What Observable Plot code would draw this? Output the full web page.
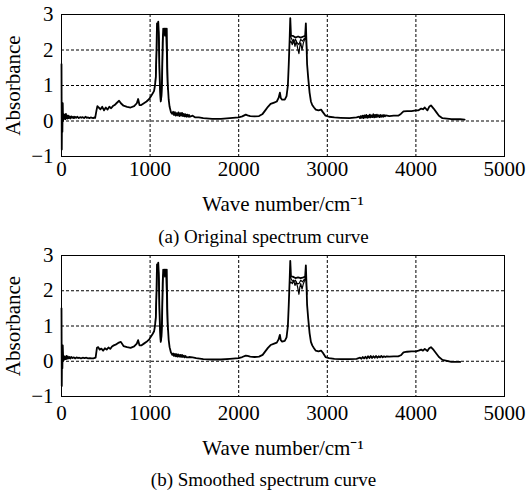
<!DOCTYPE html>
<html><head><meta charset="utf-8">
<script src="https://cdn.jsdelivr.net/npm/d3@7"></script>
<script src="https://cdn.jsdelivr.net/npm/@observablehq/plot@0.6"></script>
<style>
body{margin:0;background:#fff;}
.cap{width:527px;text-align:center;font-family:"Liberation Serif",serif;font-size:19px;height:30px;line-height:30px;color:#000;}
</style></head><body>
<div id="a"></div><div class="cap">(a) Original spectrum curve</div>
<div id="b"></div><div class="cap">(b) Smoothed spectrum curve</div>
<script>
const xTicks = [0,1000,2000,3000,4000,5000];
const yTicks = [-1,0,1,2,3];
const xGrid = [1000,2000,3000,4000];
const yGrid = [0,1,2];

// Original spectrum, main trace
const waveA = [0,3,6,10,14,18,22,26,30,35,40,45,50,55,60,68,75,82,90,100,110,120,130,140,150,165,180,195,210,225,240,255,270,285,300,315,330,345,360,370,380,395,405,420,440,460,480,500,520,540,560,580,600,620,650,670,700,740,780,820,850,865,880,900,930,960,990,1010,1030,1045,1055,1065,1072,1078,1085,1092,1098,1105,1112,1120,1128,1135,1142,1148,1155,1162,1168,1175,1182,1188,1194,1200,1210,1220,1235,1250,1260,1270,1280,1290,1300,1310,1320,1330,1340,1350,1360,1370,1380,1390,1400,1410,1420,1430,1440,1450,1480,1510,1550,1600,1700,1800,1900,2000,2040,2080,2100,2130,2180,2230,2270,2300,2330,2360,2400,2430,2450,2465,2475,2490,2520,2540,2555,2565,2575,2582,2590,2610,2640,2670,2700,2730,2750,2758,2765,2772,2785,2800,2815,2830,2850,2870,2900,2930,2950,2980,3020,3080,3150,3250,3330,3360,3370,3380,3390,3400,3410,3420,3430,3440,3450,3460,3470,3480,3490,3500,3510,3520,3530,3540,3550,3560,3570,3580,3590,3600,3610,3620,3630,3640,3650,3660,3700,3750,3800,3830,3860,3900,3950,4000,4030,4060,4080,4100,4130,4150,4170,4200,4230,4260,4300,4400,4500,4550];
const absA = [1.6,-0.8,0.3,-0.3,0.5,0.0,0.2,0.05,0.15,0.06,0.18,0.05,0.2,0.08,0.16,0.07,0.15,0.08,0.13,0.07,0.13,0.09,0.12,0.08,0.12,0.09,0.12,0.08,0.11,0.09,0.11,0.08,0.12,0.09,0.1,0.08,0.1,0.09,0.08,0.1,0.09,0.3,0.42,0.38,0.33,0.4,0.3,0.38,0.32,0.4,0.36,0.42,0.45,0.5,0.57,0.5,0.43,0.4,0.38,0.42,0.5,0.62,0.45,0.45,0.5,0.55,0.62,0.7,0.78,0.85,1.0,1.25,2.0,2.75,2.6,2.8,2.5,1.5,0.9,0.55,0.7,1.2,2.2,2.6,2.55,2.6,2.4,2.6,2.5,2.6,1.5,1.0,0.6,0.4,0.25,0.2,0.26,0.17,0.25,0.15,0.22,0.16,0.24,0.14,0.22,0.15,0.23,0.14,0.2,0.13,0.19,0.12,0.18,0.12,0.17,0.12,0.15,0.1,0.1,0.08,0.06,0.06,0.08,0.1,0.13,0.18,0.16,0.14,0.13,0.14,0.2,0.3,0.4,0.48,0.52,0.55,0.65,0.8,0.65,0.6,0.6,0.7,1.0,1.6,2.3,2.9,2.4,2.4,2.35,2.38,2.35,2.38,2.4,2.75,2.2,1.6,1.2,0.8,0.55,0.45,0.38,0.32,0.3,0.32,0.25,0.15,0.12,0.1,0.09,0.08,0.1,0.12,0.08,0.14,0.09,0.15,0.08,0.16,0.1,0.17,0.09,0.15,0.1,0.18,0.1,0.16,0.11,0.19,0.1,0.17,0.11,0.18,0.12,0.16,0.11,0.17,0.12,0.16,0.12,0.17,0.13,0.16,0.14,0.15,0.15,0.2,0.27,0.28,0.28,0.3,0.3,0.35,0.33,0.38,0.3,0.4,0.44,0.35,0.25,0.15,0.08,0.05,0.05,0.04,0.03];
// Original spectrum, secondary traces in the saturated bands
const waveA2 = [1060,1072,1080,1090,1100,1108,1118,1126,1134,1145,1155,1165,1178,1190,1198];
const absA2 = [1.1,1.8,2.6,2.7,2.3,1.2,0.6,0.6,1.0,2.4,2.5,2.45,2.5,1.6,0.9];
const waveA3 = [2575,2590,2605,2620,2635,2650,2665,2680,2690,2700,2715,2730,2745,2758,2770];
const absA3 = [2.2,2.25,2.15,2.3,2.1,2.25,2.05,1.9,2.1,2.2,2.0,2.2,2.3,2.45,1.9];
const waveA4 = [2580,2600,2620,2640,2660,2680,2700,2720,2740,2760];
const absA4 = [2.4,2.3,2.2,2.3,2.2,2.15,2.3,2.25,2.32,2.3];

// Smoothed spectrum, main trace
const waveB = [0,3,6,10,14,20,26,32,40,48,55,62,70,80,90,100,110,125,140,155,170,185,200,220,240,260,280,300,320,340,360,385,400,415,430,450,470,490,510,530,550,570,590,610,640,670,700,740,780,820,850,865,880,900,930,960,990,1010,1030,1045,1055,1065,1072,1078,1085,1092,1098,1105,1112,1120,1128,1135,1142,1148,1155,1162,1168,1175,1182,1188,1194,1200,1210,1220,1235,1250,1260,1270,1280,1290,1300,1310,1320,1330,1340,1350,1360,1370,1380,1390,1400,1410,1440,1480,1520,1600,1700,1800,1900,2000,2040,2080,2100,2130,2180,2230,2270,2300,2330,2360,2400,2430,2450,2465,2475,2490,2520,2540,2555,2565,2575,2582,2590,2610,2640,2670,2700,2730,2750,2758,2765,2772,2785,2800,2815,2830,2850,2870,2900,2930,2950,2980,3020,3080,3150,3250,3330,3370,3385,3400,3415,3430,3445,3460,3475,3490,3505,3520,3535,3550,3565,3580,3595,3610,3625,3640,3655,3670,3700,3750,3800,3830,3860,3900,3950,4000,4030,4060,4080,4100,4130,4150,4170,4200,4230,4260,4300,4400,4500];
const absB = [1.5,-0.7,0.3,-0.2,0.45,0.02,0.15,0.05,0.12,0.06,0.15,0.07,0.14,0.08,0.12,0.08,0.12,0.09,0.11,0.08,0.11,0.09,0.1,0.08,0.1,0.09,0.1,0.08,0.09,0.08,0.08,0.1,0.38,0.4,0.33,0.36,0.3,0.37,0.33,0.39,0.35,0.42,0.45,0.47,0.52,0.55,0.43,0.4,0.38,0.42,0.5,0.6,0.45,0.45,0.5,0.55,0.62,0.7,0.78,0.85,1.0,1.25,2.0,2.75,2.6,2.8,2.5,1.5,0.9,0.55,0.7,1.2,2.2,2.6,2.55,2.6,2.4,2.6,2.5,2.6,1.5,1.0,0.6,0.4,0.25,0.18,0.22,0.15,0.21,0.14,0.2,0.13,0.19,0.13,0.18,0.12,0.18,0.12,0.16,0.11,0.15,0.11,0.12,0.11,0.09,0.06,0.05,0.05,0.07,0.09,0.12,0.16,0.15,0.13,0.12,0.13,0.18,0.28,0.38,0.46,0.5,0.53,0.62,0.75,0.6,0.56,0.58,0.68,1.0,1.6,2.3,2.85,2.4,2.4,2.36,2.38,2.36,2.38,2.4,2.72,2.2,1.6,1.2,0.8,0.55,0.45,0.37,0.3,0.28,0.3,0.24,0.12,0.09,0.07,0.06,0.06,0.07,0.1,0.07,0.12,0.08,0.13,0.08,0.14,0.09,0.15,0.09,0.14,0.1,0.15,0.1,0.14,0.11,0.15,0.11,0.14,0.12,0.14,0.13,0.14,0.14,0.17,0.25,0.27,0.28,0.28,0.3,0.33,0.3,0.35,0.29,0.37,0.4,0.32,0.22,0.12,0.04,-0.02,-0.02,-0.02];
const waveB2 = [1060,1072,1080,1090,1100,1108,1118,1126,1134,1145,1155,1165,1178,1190,1198];
const absB2 = [1.1,1.8,2.6,2.7,2.3,1.2,0.6,0.6,1.0,2.4,2.5,2.45,2.5,1.6,0.9];
const waveB3 = [2575,2590,2605,2620,2635,2650,2665,2680,2690,2700,2715,2730,2745,2758,2770];
const absB3 = [2.2,2.25,2.2,2.3,2.15,2.25,2.1,1.9,2.1,2.2,2.05,2.2,2.3,2.45,1.9];
const waveB4 = [2580,2600,2620,2640,2660,2680,2700,2720,2740,2760];
const absB4 = [2.4,2.3,2.25,2.3,2.2,2.2,2.3,2.25,2.32,2.3];

const toRows = (w, a) => w.map((x, i) => ({x, y: a[i]}));
const fmtY = d => d < 0 ? "\u2212" + (-d) : String(d);

function panel(traces, opts) {
  return Plot.plot({
    width: 527, height: opts.height,
    marginLeft: 61, marginRight: 23, marginTop: opts.top, marginBottom: opts.bottom,
    style: {fontFamily: "Liberation Serif, serif", fontSize: "21px", color: "#000", background: "#fff", overflow: "visible"},
    x: {domain: [0, 5000]},
    y: {domain: [-1, 3]},
    marks: [
      Plot.ruleX(xGrid, {stroke: "#000", strokeWidth: 1, strokeDasharray: "3,2"}),
      Plot.ruleY(yGrid, {stroke: "#000", strokeWidth: 1, strokeDasharray: "3,2"}),
      Plot.axisX({ticks: xTicks, tickSize: 0, tickPadding: opts.xpad, tickFormat: d => String(d), fontSize: 21, label: "Wave number/cm⁻¹", labelAnchor: "center", labelArrow: "none", labelOffset: opts.xlab}),
      Plot.axisY({ticks: yTicks, tickSize: 0, tickPadding: 8, tickFormat: fmtY, fontSize: 21, label: "Absorbance", labelAnchor: "center", labelArrow: "none", labelOffset: 56}),
      ...traces.map(([w, a], i) => Plot.line(toRows(w, a), {x: "x", y: "y", stroke: "#000", strokeWidth: i === 0 ? 1.8 : 1.2})),
      Plot.frame({stroke: "#000", strokeWidth: 1})
    ]
  });
}

document.getElementById("a").append(panel([[waveA, absA], [waveA2, absA2], [waveA3, absA3], [waveA4, absA4]], {height: 222, top: 14, bottom: 66, xpad: 5, xlab: 54}));
document.getElementById("b").append(panel([[waveB, absB], [waveB2, absB2], [waveB3, absB3], [waveB4, absB4]], {height: 213, top: 3, bottom: 69, xpad: 9, xlab: 58}));
</script></body></html>
